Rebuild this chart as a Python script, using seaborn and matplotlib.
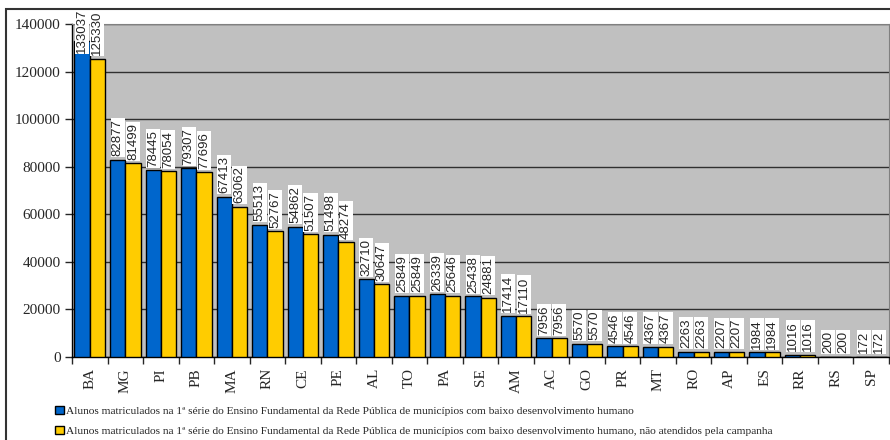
import matplotlib
matplotlib.use("Agg")
import matplotlib.pyplot as plt
import seaborn as sns
import pandas as pd
from matplotlib.patches import Patch, Rectangle

estados = ["BA", "MG", "PI", "PB", "MA", "RN", "CE", "PE", "AL", "TO", "PA", "SE",
           "AM", "AC", "GO", "PR", "MT", "RO", "AP", "ES", "RR", "RS", "SP"]
matriculados = [133037, 82877, 78445, 79307, 67413, 55513, 54862, 51498, 32710,
                25849, 26339, 25438, 17414, 7956, 5570, 4546, 4367, 2263, 2207,
                1984, 1016, 200, 172]
nao_atendidos = [125330, 81499, 78054, 77696, 63062, 52767, 51507, 48274, 30647,
                 25849, 25646, 24881, 17110, 7956, 5570, 4546, 4367, 2263, 2207,
                 1984, 1016, 200, 172]
series = [
    "Alunos matriculados na 1ª série do Ensino Fundamental da Rede Pública de municípios com baixo desenvolvimento humano",
    "Alunos matriculados na 1ª série do Ensino Fundamental da Rede Pública de municípios com baixo desenvolvimento humano, não atendidos pela campanha",
]
cores = ["#0066CC", "#FFCC00"]

df = pd.DataFrame({
    "estado": estados * 2,
    "alunos": matriculados + nao_atendidos,
    "serie": [series[0]] * len(estados) + [series[1]] * len(estados),
})

sns.set_style("white")
plt.rcParams["font.family"] = ["Liberation Serif", "DejaVu Serif"]

fig = plt.figure(figsize=(8.9, 4.4), dpi=100)
ax = fig.add_axes([72 / 890, 83 / 440, 817 / 890, 333 / 440])
ax.set_facecolor("#C0C0C0")

sns.barplot(data=df, x="estado", y="alunos", hue="serie", palette=cores,
            saturation=1, width=0.86, edgecolor="black", linewidth=1, ax=ax,
            legend=False, errorbar=None, zorder=3)

ax.set_ylim(0, 140000)
ax.set_xlim(-0.5, len(estados) - 0.5)
ax.set_yticks(range(0, 140001, 20000))
ax.grid(axis="y", color="#303030", linewidth=1, zorder=0)
ax.set_axisbelow(True)
ax.set_xlabel("")
ax.set_ylabel("")

for s in ["left", "bottom"]:
    ax.spines[s].set_color("black")
    ax.spines[s].set_linewidth(1)
ax.spines["top"].set_color("#808080")
ax.spines["right"].set_color("#808080")

ax.tick_params(axis="y", direction="out", length=5, width=1, labelsize=11,
               left=True, pad=3)
ax.set_xticks(range(len(estados)))
ax.set_xticklabels(estados, rotation=90)
ax.tick_params(axis="x", which="major", length=0, labelsize=11, pad=8)
ax.set_xticks([i - 0.5 for i in range(len(estados) + 1)], minor=True)
ax.tick_params(axis="x", which="minor", direction="out", length=5, width=1,
               bottom=True)

# rotulos de valor acima das barras, caixa branca
for cont, vals in zip(ax.containers, [matriculados, nao_atendidos]):
    for bar, v in zip(cont, vals):
        x = bar.get_x() + bar.get_width() / 2
        y = min(v + 1500, 127800)
        ax.text(x, y, str(v), rotation=90, ha="center", va="bottom",
                fontsize=9.5, family=["Liberation Sans", "DejaVu Sans"],
                bbox=dict(facecolor="white", edgecolor="none", pad=0.8),
                zorder=5, clip_on=False)

handles = [Patch(facecolor=c, edgecolor="black", linewidth=1) for c in cores]
fig.legend(handles, series, loc="upper left",
           bbox_to_anchor=(55 / 890, 1 - 406 / 440),
           frameon=False, fontsize=8.2, handlelength=0.75, handleheight=0.75,
           handletextpad=0.25, labelspacing=0.85, borderpad=0, borderaxespad=0)

fig.patches.append(Rectangle((6 / 890, -0.1), 1.2, 1.1 - 9 / 440,
                             transform=fig.transFigure, fill=False,
                             edgecolor="#333333", linewidth=1.5, zorder=0))

fig.savefig("out.png", dpi=100)
